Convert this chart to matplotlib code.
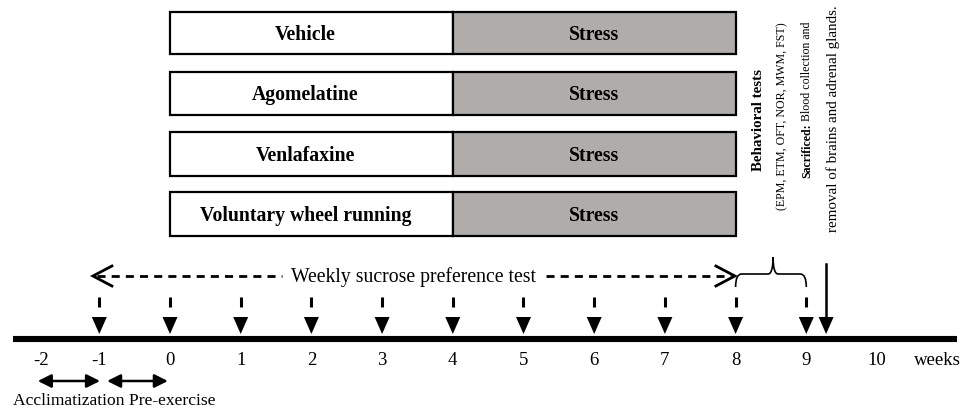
import matplotlib.pyplot as plt
from matplotlib.patches import Rectangle, PathPatch
from matplotlib.path import Path

plt.rcParams['font.family'] = ['Liberation Serif', 'DejaVu Serif']

# Treatment groups (top boxes) and phases, in weeks
groups = ["Vehicle", "Agomelatine", "Venlafaxine", "Voluntary wheel running"]
treat_phase = (0, 4)
stress_phase = (4, 8)
stress_label = "Stress"
row_center = [34, 94, 155, 215]      # vertical layout, px from top
row_height = [42, 43, 44, 44]

# Timeline
week_labels = ["-2", "-1", "0", "1", "2", "3", "4", "5", "6", "7", "8", "9", "10"]
week_label_pos = [-1.82, -1, 0, 1, 2, 3, 4, 5, 6, 7, 8, 9, 10]
spt_weeks = [-1, 0, 1, 2, 3, 4, 5, 6, 7, 8, 9]
sacrifice_week = 9.28
timeline_span = (-2.22, 11.13)
spt_span = (-1.09, 7.99)
behav_span = (8, 9)
accl_span = (-1.87, -0.99)
pre_span = (-0.89, -0.03)

grey = '#b0acaa'
px = 1 / 70.7   # one pixel in week units

fig = plt.figure(figsize=(9.64, 4.10), dpi=100)
ax = fig.add_axes([0, 0, 1, 1])
ax.set_xlim(-170 * px, (964 - 170) * px)
ax.set_ylim(410, 0)
ax.axis('off')

# group boxes
for name, yc, h in zip(groups, row_center, row_height):
    ax.add_patch(Rectangle((treat_phase[0], yc - h / 2), treat_phase[1] - treat_phase[0], h,
                           fc='white', ec='black', lw=1.6))
    ax.add_patch(Rectangle((stress_phase[0], yc - h / 2), stress_phase[1] - stress_phase[0], h,
                           fc=grey, ec='black', lw=1.6))
    ax.text(sum(treat_phase) / 2 - 6 * px, yc + 1, name, ha='center', va='center',
            fontsize=14.2, fontweight='bold')
    ax.text(sum(stress_phase) / 2, yc + 1, stress_label, ha='center', va='center',
            fontsize=14.2, fontweight='bold')

# main timeline
ax.plot(timeline_span, [340, 340], color='black', lw=4.4, solid_capstyle='butt')
for lab, x in zip(week_labels, week_label_pos):
    ax.text(x, 361, lab, ha='center', va='center', fontsize=13.5)
ax.text(10.85, 361, "weeks", ha='center', va='center', fontsize=13.5)


def head_down(x, top=318, tip=335, half=7.5):
    ax.fill([x - half * px, x + half * px, x], [top, top, tip], color='black', lw=0)


# weekly test arrows
for w in spt_weeks:
    ax.plot([w, w], [298, 308], color='black', lw=2.2, solid_capstyle='butt')
    head_down(w)

# sacrifice arrow
ax.plot([sacrifice_week, sacrifice_week], [265, 322], color='black', lw=1.8)
head_down(sacrifice_week)

# dashed sucrose preference arrow with text
ys = 277
text_x = 3.44
ax.text(text_x, ys, "Weekly sucrose preference test", ha='center', va='center',
        fontsize=14.2)
dash = dict(color='black', lw=2, linestyle=(0, (2.9, 2.2)))
ax.plot([spt_span[0] + 4 * px, text_x - 131 * px], [ys, ys], **dash)
ax.plot([text_x + 133 * px, spt_span[1] - 4 * px], [ys, ys], **dash)
for tip, d in [(spt_span[0], 1), (spt_span[1], -1)]:
    ax.plot([tip + d * 19 * px, tip, tip + d * 19 * px], [ys - 10, ys, ys + 10],
            color='black', lw=2, solid_joinstyle='miter')

# curly brace over weeks 8-9
b0, b1 = behav_span
bm = (b0 + b1) / 2 + 0.03
verts = [(b0, 288), (b0, 275), (b0 + 6 * px, 275),
         (bm - 5 * px, 275),
         (bm, 275), (bm, 258),
         (bm, 275), (bm + 5 * px, 275),
         (b1 - 6 * px, 275),
         (b1, 275), (b1, 288)]
codes = [Path.MOVETO, Path.CURVE3, Path.CURVE3,
         Path.LINETO,
         Path.CURVE3, Path.CURVE3,
         Path.CURVE3, Path.CURVE3,
         Path.LINETO,
         Path.CURVE3, Path.CURVE3]
ax.add_patch(PathPatch(Path(verts, codes), fc='none', ec='black', lw=1.2))

# behavioural tests / sacrifice labels (vertical)
ax.text(8.32, 120, "Behavioral tests", rotation=90, ha='center', va='center',
        fontsize=10.8, fontweight='bold')
ax.text(8.66, 116, "(EPM, ETM, OFT, NOR, MWM, FST)", rotation=90, ha='center',
        va='center', fontsize=8.6)
renderer = fig.canvas.get_renderer()
sac = ax.text(9.01, 178, "Sacrificed:", rotation=90, rotation_mode='anchor',
              ha='left', va='center', fontsize=8.6, fontweight='bold')
sac_h = sac.get_window_extent(renderer).height
ax.text(9.01, 178 - sac_h - 2, "Blood collection and", rotation=90,
        rotation_mode='anchor', ha='left', va='center', fontsize=8.6)
ax.text(9.38, 119, "removal of brains and adrenal glands.", rotation=90,
        ha='center', va='center', fontsize=10.8)

# acclimatization / pre-exercise
for span in [accl_span, pre_span]:
    ax.annotate('', xy=(span[1], 382), xytext=(span[0], 382),
                arrowprops=dict(arrowstyle='<|-|>', mutation_scale=20, lw=1.8,
                                color='black', shrinkA=0, shrinkB=0))
ax.text(timeline_span[0], 401, "Acclimatization Pre-exercise", ha='left', va='center',
        fontsize=12.6)

fig.savefig('out.png', dpi=100)
